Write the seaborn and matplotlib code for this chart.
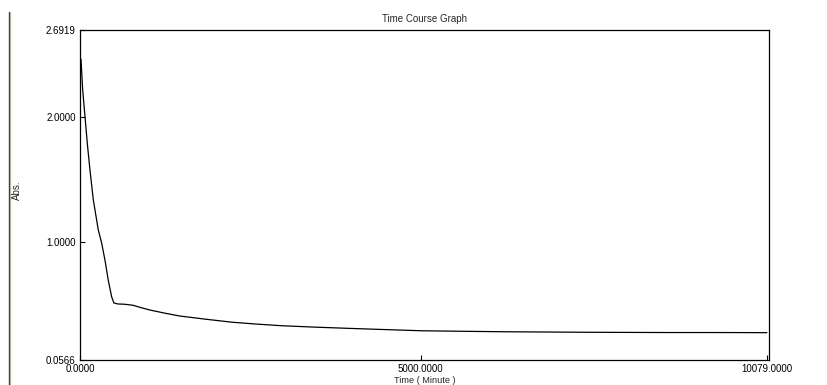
import matplotlib
matplotlib.use("Agg")
import matplotlib.pyplot as plt
from matplotlib.lines import Line2D
import seaborn as sns
import pandas as pd

# Data
time_min = [0, 15, 39, 73, 110, 146, 195, 268, 317, 366, 414, 464, 497, 556, 650, 775,
            900, 1024, 1250, 1463, 1850, 2238, 2600, 2970, 3450, 3906, 4450, 5017,
            5600, 6246, 6850, 7416, 8000, 8587, 9300, 10079]
absorbance = [2.47, 2.456, 2.216, 2.002, 1.77, 1.576, 1.336, 1.096, 0.992, 0.856, 0.696,
              0.562, 0.512, 0.504, 0.502, 0.494, 0.474, 0.456, 0.430, 0.408, 0.382,
              0.358, 0.343, 0.330, 0.319, 0.310, 0.300, 0.290, 0.286, 0.282, 0.280,
              0.278, 0.277, 0.276, 0.276, 0.275]
y_ticks = [0.0566, 1.0, 2.0, 2.6919]
x_ticks = [0.0, 5000.0, 10079.0]
title = "Time Course Graph"
x_label = "Time ( Minute )"
y_label = "Abs."

sns.set_style("white")
plt.rcParams["font.family"] = ["Liberation Sans", "DejaVu Sans"]

df = pd.DataFrame({"t": time_min, "a": absorbance})

fig = plt.figure(figsize=(8.28, 3.85), dpi=100)
ax = fig.add_axes([80 / 828, 25 / 385, 689 / 828, 330 / 385])
sns.lineplot(data=df, x="t", y="a", ax=ax, color="black", linewidth=0.9)

ax.set_xlim(0, 10110)
ax.set_ylim(y_ticks[0], y_ticks[-1])
ax.set_yticks(y_ticks)
ax.set_yticklabels([f"{v:.4f}" for v in y_ticks])
ax.set_xticks(x_ticks)
ax.set_xticklabels([f"{v:.4f}" for v in x_ticks])
ax.tick_params(axis="both", direction="in", length=3.5, width=0.8,
               labelsize=7, colors="black", left=True, bottom=True)
ax.tick_params(axis="y", pad=3)
ax.tick_params(axis="x", pad=3)
ax.set_xlabel("")
ax.set_ylabel("")
for s in ax.spines.values():
    s.set_color("black")
    s.set_linewidth(0.9)
    s.set_visible(True)

fig.text(424.5 / 828, 1 - 19 / 385, title, ha="center", va="center", fontsize=7)
fig.text(424.5 / 828, 0.0, x_label, ha="center", va="bottom", fontsize=6.6)
fig.text(17 / 828, 1 - 190 / 385, y_label, ha="center", va="center",
         rotation=90, fontsize=7)

# window border line at left
fig.add_artist(Line2D([10 / 828, 10 / 828], [0, 1 - 12 / 385],
                      transform=fig.transFigure, color="#d8d0b8", linewidth=1.0))
fig.add_artist(Line2D([8.8 / 828, 8.8 / 828], [0, 1 - 12 / 385],
                      transform=fig.transFigure, color="#404040", linewidth=1.0))

fig.savefig("out.png", dpi=100)
